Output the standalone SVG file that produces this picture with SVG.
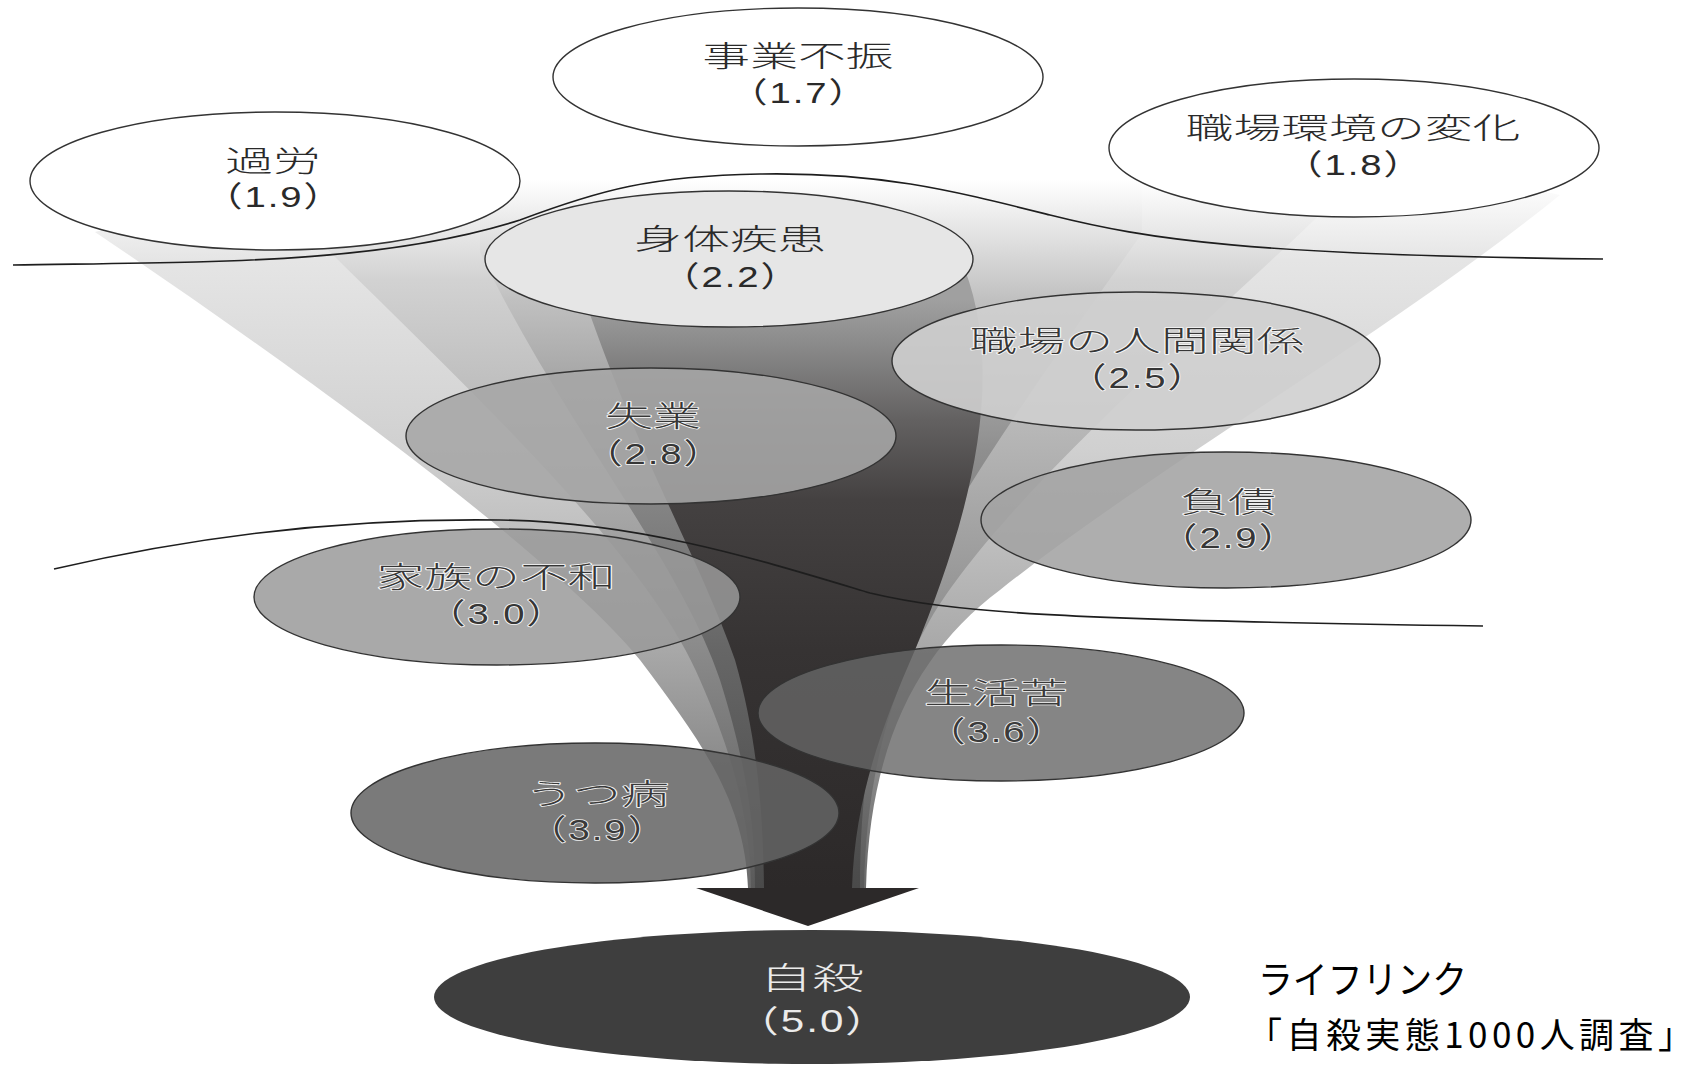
<svg xmlns="http://www.w3.org/2000/svg" width="1693" height="1067" viewBox="0 0 1693 1067">
<style>
.e{stroke:#333;stroke-width:1.4}
.ln{fill:none;stroke:#1e1e1e;stroke-width:1.6}
.t{font-family:"Noto Sans CJK JP","Noto Sans",sans-serif;font-size:29px;font-weight:300;text-anchor:middle}
.num{font-family:"Liberation Sans","Noto Sans CJK JP",sans-serif;font-size:29px;font-weight:400;text-anchor:middle;letter-spacing:1.5px}
.dk{fill:#2a2a2a}
.halo{fill:#363636;stroke:#f6f6f6;stroke-width:1.6;paint-order:stroke;stroke-linejoin:round}
.halo2{fill:#3a3a3a;stroke:#f0f0f0;stroke-width:1.6;paint-order:stroke;stroke-linejoin:round}
.inv{fill:#ebebeb}
.cap{font-family:"Noto Sans CJK JP","Noto Sans",sans-serif;fill:#000}
</style>
<defs>
<linearGradient id="g0" gradientUnits="userSpaceOnUse" x1="0" y1="0" x2="0" y2="1000">
<stop offset="0.18" stop-color="#ffffff"/><stop offset="0.26" stop-color="#e5e5e5"/><stop offset="0.45" stop-color="#d0d0d0"/><stop offset="0.65" stop-color="#a8a8a8"/><stop offset="0.888" stop-color="#6a6a6a"/>
</linearGradient>
<linearGradient id="g1" gradientUnits="userSpaceOnUse" x1="0" y1="0" x2="0" y2="1000">
<stop offset="0.18" stop-color="#ffffff"/><stop offset="0.28" stop-color="#d2d2d2"/><stop offset="0.45" stop-color="#b3b3b3"/><stop offset="0.65" stop-color="#8a8a8a"/><stop offset="0.888" stop-color="#5a5a5a"/>
</linearGradient>
<linearGradient id="g2" gradientUnits="userSpaceOnUse" x1="0" y1="0" x2="0" y2="1000">
<stop offset="0.18" stop-color="#ffffff"/><stop offset="0.30" stop-color="#c0c0c0"/><stop offset="0.45" stop-color="#8f8f8f"/><stop offset="0.65" stop-color="#666666"/><stop offset="0.888" stop-color="#4a4a4a"/>
</linearGradient>
<linearGradient id="g3" gradientUnits="userSpaceOnUse" x1="0" y1="0" x2="0" y2="1000">
<stop offset="0.30" stop-color="#a0a0a0"/><stop offset="0.345" stop-color="#8a8a8a"/><stop offset="0.42" stop-color="#636161"/><stop offset="0.50" stop-color="#444141"/><stop offset="0.65" stop-color="#363333"/><stop offset="0.888" stop-color="#2c2929"/>
</linearGradient>
</defs>
<rect width="1693" height="1067" fill="#fff"/>

<g id="connectors">
<path fill="url(#g0)" d="M95,232 C300,370 560,560 640,660 C700,740 745,800 748,888 L866,888 C870,740 920,650 1000,590 C1150,470 1380,340 1560,195 L1354,150 L275,181 Z"/>
<path fill="url(#g1)" d="M330,252 C480,400 650,560 700,680 C735,760 750,820 751,888 L864,888 C866,780 890,690 930,620 C1000,500 1200,330 1330,205 L1354,150 L275,181 Z"/>
<path fill="url(#g2)" d="M480,252 C560,420 680,560 720,680 C745,760 755,820 755,888 L860,888 C860,800 870,730 890,650 C920,540 1040,380 1142,233 L1142,150 L480,150 Z"/>
<path fill="url(#g3)" d="M585,300 C640,460 700,560 735,660 C755,730 763,800 764,888 L852,888 C855,800 880,730 915,650 C960,540 1010,390 965,270 Z"/>
<polygon points="696,888 919,888 808,926" fill="#2c2929"/>
</g>

<g id="boundaries">
<path class="ln" d="M13,265 C200,262 380,265 520,220 C600,190 650,176 760,174 C880,172 950,190 1050,215 C1150,240 1250,255 1603,259"/>
<path class="ln" d="M54,569 C200,535 350,518 500,520 C640,522 760,560 870,593 C950,612 1050,620 1483,626"/>
</g>

<g id="node-jigyou">
<ellipse class="e" cx="798" cy="77" rx="245" ry="69" fill="#fff"/>
<text class="t dk" transform="translate(798 0) scale(1.65 1)" x="0" y="67">事業不振</text>
<text class="num dk" transform="translate(799 0) scale(1.32 1)" x="0" y="103">（1.7）</text>
</g>
<g id="node-karou">
<ellipse class="e" cx="275" cy="181" rx="245" ry="69" fill="#fff"/>
<text class="t dk" transform="translate(273 0) scale(1.65 1)" x="0" y="172">過労</text>
<text class="num dk" transform="translate(274 0) scale(1.32 1)" x="0" y="207">（1.9）</text>
</g>
<g id="node-shokuba-kankyou">
<ellipse class="e" cx="1354" cy="148" rx="245" ry="69" fill="#fff"/>
<text class="t dk" transform="translate(1353 0) scale(1.65 1)" x="0" y="139">職場環境の変化</text>
<text class="num dk" transform="translate(1354 0) scale(1.32 1)" x="0" y="175">（1.8）</text>
</g>
<g id="node-shintai">
<ellipse class="e" cx="729" cy="259" rx="244" ry="68" fill="#e6e6e6"/>
<text class="t dk" transform="translate(730 0) scale(1.65 1)" x="0" y="250">身体疾患</text>
<text class="num dk" transform="translate(731 0) scale(1.32 1)" x="0" y="287">（2.2）</text>
</g>
<g id="node-ningen">
<ellipse class="e" cx="1136" cy="361" rx="244" ry="69" fill="#cfcfcf" fill-opacity="0.9"/>
<text class="t halo" transform="translate(1137 0) scale(1.65 1)" x="0" y="352">職場の人間関係</text>
<text class="num halo" transform="translate(1138 0) scale(1.32 1)" x="0" y="388">（2.5）</text>
</g>
<g id="node-shitsugyou">
<ellipse class="e" cx="651" cy="436" rx="245" ry="68" fill="#a6a6a6" fill-opacity="0.88"/>
<text class="t halo" transform="translate(653 0) scale(1.65 1)" x="0" y="427">失業</text>
<text class="num halo" transform="translate(654 0) scale(1.32 1)" x="0" y="464">（2.8）</text>
</g>
<g id="node-fusai">
<ellipse class="e" cx="1226" cy="520" rx="245" ry="68" fill="#a3a3a3" fill-opacity="0.88"/>
<text class="t halo" transform="translate(1228 0) scale(1.65 1)" x="0" y="513">負債</text>
<text class="num halo" transform="translate(1229 0) scale(1.32 1)" x="0" y="548">（2.9）</text>
</g>
<g id="node-kazoku">
<ellipse class="e" cx="497" cy="597" rx="243" ry="68" fill="#9a9a9a" fill-opacity="0.85"/>
<text class="t halo" transform="translate(496 0) scale(1.65 1)" x="0" y="588">家族の不和</text>
<text class="num halo" transform="translate(497 0) scale(1.32 1)" x="0" y="624">（3.0）</text>
</g>
<g id="node-seikatsu">
<ellipse class="e" cx="1001" cy="713" rx="243" ry="68" fill="#666666" fill-opacity="0.8"/>
<text class="t halo2" transform="translate(996 0) scale(1.65 1)" x="0" y="704">生活苦</text>
<text class="num halo2" transform="translate(997 0) scale(1.32 1)" x="0" y="742">（3.6）</text>
</g>
<g id="node-utsu">
<ellipse class="e" cx="595" cy="813" rx="244" ry="70" fill="#646464" fill-opacity="0.86"/>
<text class="t halo2" transform="translate(597 0) scale(1.65 1)" x="0" y="805">うつ病</text>
<text class="num halo2" transform="translate(598 0) scale(1.32 1)" x="0" y="840">（3.9）</text>
</g>
<g id="node-jisatsu">
<ellipse cx="812" cy="997" rx="378" ry="67" fill="#3e3e3e"/>
<text class="t inv" style="font-size:31px" transform="translate(812 0) scale(1.68 1)" x="0" y="989">自殺</text>
<text class="num inv" style="font-size:31px" transform="translate(813 0) scale(1.36 1)" x="0" y="1032">（5.0）</text>
</g>

<g id="caption">
<text class="cap" x="1258" y="993" font-size="38" textLength="209" lengthAdjust="spacingAndGlyphs">ライフリンク</text>
<text class="cap" x="1247" y="1048" font-size="35" textLength="446" lengthAdjust="spacing">「自殺実態1000人調査」</text>
</g>
</svg>
